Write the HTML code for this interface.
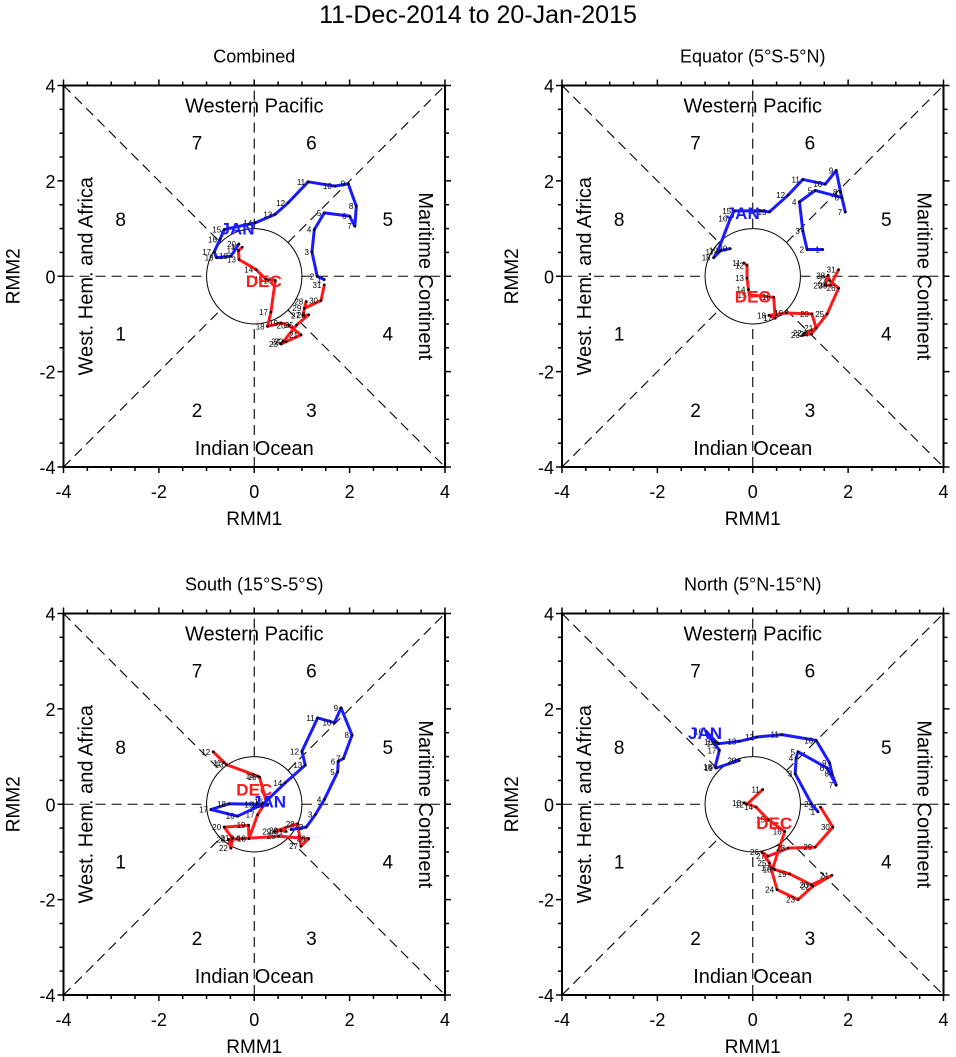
<!DOCTYPE html>
<html><head><meta charset="utf-8"><style>
body{margin:0;background:#fff;}
svg{display:block;font-family:"Liberation Sans",sans-serif;}
</style></head><body>
<svg id="chart" width="956" height="1057" viewBox="0 0 956 1057" xmlns="http://www.w3.org/2000/svg">
<text x="478" y="23" font-size="25" text-anchor="middle">11-Dec-2014 to 20-Jan-2015</text>
</svg>
<script>
// Panel titles
const panelTitles = ["Combined", "Equator (5°S-5°N)", "South (15°S-5°S)", "North (5°N-15°N)"];
// December (red) series, days 11..31
const decDays = [11,12,13,14,15,16,17,18,19,20,21,22,23,24,25,26,27,28,29,30,31];
const p1DecX = [-0.25,-0.33,-0.32,0.04,0.25,0.44,0.35,0.28,0.56,0.72,0.98,0.67,0.56,0.61,0.89,1.14,1.02,1.09,1.05,1.40,1.47];
const p1DecY = [0.61,0.54,0.35,0.14,-0.07,-0.09,-0.75,-1.05,-0.98,-1.03,-1.23,-1.37,-1.42,-1.37,-1.02,-0.81,-0.82,-0.53,-0.67,-0.51,-0.18];
const p2DecX = [-0.19,-0.12,-0.12,-0.09,-0.07,0.44,0.47,0.34,0.70,1.24,1.33,1.09,1.05,1.23,1.56,1.80,1.61,1.58,1.52,1.63,1.80];
const p2DecY = [0.28,0.23,-0.04,-0.28,-0.39,-0.44,-0.88,-0.82,-0.77,-0.79,-1.09,-1.19,-1.23,-1.21,-0.79,-0.25,-0.09,0.02,-0.19,-0.19,0.14];
const p3DecX = [-0.63,-0.86,-0.58,0.07,0.11,0.25,0.07,-0.11,-0.12,-0.63,-0.46,-0.49,-0.54,-0.25,0.51,1.14,0.98,0.91,0.42,0.56,0.67];
const p3DecY = [0.87,1.10,0.83,0.59,0.57,0.06,-0.22,-0.72,-0.44,-0.48,-0.71,-0.92,-0.74,-0.72,-0.67,-0.72,-0.88,-0.41,-0.57,-0.55,-0.57];
const p4DecX = [0.21,-0.12,-0.18,0.07,0.32,0.67,0.42,0.46,0.77,1.23,1.66,1.26,0.95,0.51,0.35,0.19,0.32,0.74,1.31,1.68,1.42];
const p4DecY = [0.31,0.00,0.03,-0.06,-0.32,-0.57,-1.34,-1.37,-1.46,-1.69,-1.49,-1.72,-2.00,-1.79,-1.23,-1.00,-1.09,-0.92,-0.90,-0.48,-0.06];
// January (blue) series, days 1..20
const janDays = [1,2,3,4,5,6,7,8,9,10,11,12,13,14,15,16,17,18,19,20];
const p1JanX = [1.47,1.32,1.21,1.26,1.47,2.00,2.11,2.14,1.97,1.69,1.13,0.71,0.44,0.02,-0.63,-0.72,-0.84,-0.79,-0.49,-0.32];
const p1JanY = [-0.07,0.00,0.51,0.98,1.33,1.26,1.05,1.47,1.94,1.89,1.98,1.54,1.30,1.12,0.98,0.77,0.51,0.39,0.42,0.68];
const p2JanX = [1.47,1.14,1.05,0.98,1.31,1.87,1.94,1.84,1.75,1.52,1.05,0.74,0.35,0.18,-0.39,-0.47,-0.74,-0.82,-0.67,-0.47];
const p2JanY = [0.56,0.56,0.95,1.56,1.80,1.65,1.35,1.77,2.22,1.93,2.03,1.70,1.35,1.37,1.37,1.21,0.51,0.39,0.54,0.58];
const p3JanX = [0.77,1.09,1.28,1.47,1.75,1.76,1.87,2.05,1.82,1.68,1.33,1.00,1.07,0.65,0.18,-0.35,-0.91,-0.53,0.04,0.28];
const p3JanY = [-0.53,-0.48,-0.22,0.10,0.68,0.90,0.96,1.45,2.02,1.71,1.81,1.11,0.82,0.45,0.00,-0.25,-0.11,0.01,0.00,-0.02];
const p4JanX = [1.37,1.23,0.89,0.91,0.95,1.56,1.75,1.66,1.61,1.33,0.61,0.09,-0.28,-0.72,-0.77,-0.98,-0.70,-0.79,-0.77,-0.28];
const p4JanY = [-0.16,0.01,0.64,0.97,1.10,0.76,0.40,0.64,0.87,1.34,1.46,1.41,1.32,1.27,1.31,1.53,1.13,0.78,0.76,0.92];
// Month label anchors (data units)
const decLabelX = [0.2,0.0,0.0,0.45];
const decLabelY = [-0.1,-0.42,0.31,-0.39];
const janLabelX = [-0.35,-0.21,0.31,-1.0];
const janLabelY = [1.0,1.33,0.06,1.49];
const tickVals = [-4,-2,0,2,4];

const decX=[p1DecX,p2DecX,p3DecX,p4DecX], decY=[p1DecY,p2DecY,p3DecY,p4DecY];
const janX=[p1JanX,p2JanX,p3JanX,p4JanX], janY=[p1JanY,p2JanY,p3JanY,p4JanY];
const origins=[[63.5,85.5],[562,85.5],[63.5,613.5],[562,613.5]];
const S=381.5/8;
const NS="http://www.w3.org/2000/svg";
const svg=document.getElementById('chart');
function mk(tag,attrs,parent){const e=document.createElementNS(NS,tag);for(const k in attrs)e.setAttribute(k,attrs[k]);(parent||svg).appendChild(e);return e;}

for(let p=0;p<4;p++){
  const [L,T]=origins[p];
  const sx=v=>L+(v+4)*S, sy=v=>T+(4-v)*S;
  const g=mk('g',{});
  
  
  const t=mk('text',{x:sx(0),y:T-23,'font-size':18,'text-anchor':'middle'},g);t.textContent=panelTitles[p];
  
  
  const d={stroke:'#000','stroke-width':1.1,'stroke-dasharray':'10,6',fill:'none'};
  const r=1/Math.SQRT2;
  [[-4,-4,-r,-r],[r,r,4,4],[-4,4,-r,r],[r,-r,4,-4],[-4,0,-1,0],[1,0,4,0],[0,-4,0,-1],[0,1,0,4]].forEach(s=>{
    const ln=mk('line',Object.assign({x1:sx(s[0]),y1:sy(s[1]),x2:sx(s[2]),y2:sy(s[3])},d),g);
    
    
  });
  const c=mk('circle',{cx:sx(0),cy:sy(0),r:S,fill:'none',stroke:'#000','stroke-width':1},g);
  
  
  const b=mk('rect',{x:L,y:T,width:8*S,height:8*S,fill:'none',stroke:'#000','stroke-width':2},g);
  
  
  for(let v=-4;v<=4;v+=0.5){
    const len=(v%2===0)?6:4;
    mk('line',{x1:sx(v),y1:T+8*S,x2:sx(v),y2:T+8*S+len,stroke:'#000','stroke-width':1.5},g);
    mk('line',{x1:sx(v),y1:T,x2:sx(v),y2:T-len,stroke:'#000','stroke-width':1.5},g);
    mk('line',{x1:L,y1:sy(v),x2:L-len,y2:sy(v),stroke:'#000','stroke-width':1.5},g);
    mk('line',{x1:L+8*S,y1:sy(v),x2:L+8*S+len,y2:sy(v),stroke:'#000','stroke-width':1.5},g);
  }
  tickVals.forEach(v=>{
    const a=mk('text',{x:sx(v),y:T+8*S+31,'font-size':18,'text-anchor':'middle'},g);a.textContent=v;
    
    
    const bb=mk('text',{x:L-8,y:sy(v)+7,'font-size':18,'text-anchor':'end'},g);bb.textContent=v;
    
    
  });
  const xt=mk('text',{x:sx(0),y:T+8*S+58,'font-size':19,'text-anchor':'middle'},g);xt.textContent='RMM1';
  
  
  const yt=mk('text',{x:0,y:0,'font-size':19,'text-anchor':'middle',transform:`translate(${L-44},${sy(0)}) rotate(-90)`},g);yt.textContent='RMM2';
  
  
  const reg=[['Western Pacific',sx(0),sy(3.5)+3,0],['Indian Ocean',sx(0),sy(-3.6)+7,0]];
  reg.forEach(q=>{const e=mk('text',{x:q[1],y:q[2],'font-size':20,'text-anchor':'middle'},g);e.textContent=q[0];
    
    });
  const w=mk('text',{x:0,y:0,'font-size':20,'text-anchor':'middle',transform:`translate(${sx(-3.5)+5},${sy(0)}) rotate(-90)`},g);w.textContent='West. Hem. and Africa';
  
  
  const m=mk('text',{x:0,y:0,'font-size':20,'text-anchor':'middle',transform:`translate(${sx(3.5)-2},${sy(0)}) rotate(90)`},g);m.textContent='Maritime Continent';
  
  
  const ph=[[1,-2.8,-1.2],[2,-1.2,-2.8],[3,1.2,-2.8],[4,2.8,-1.2],[5,2.8,1.2],[6,1.2,2.8],[7,-1.2,2.8],[8,-2.8,1.2]];
  ph.forEach(q=>{const e=mk('text',{x:sx(q[1]),y:sy(q[2])+7,'font-size':19,'text-anchor':'middle'},g);e.textContent=q[0];
    
    });
  function series(X,Y,days,color,name){
    const pts=X.map((x,i)=>sx(x)+','+sy(Y[i])).join(' ');
    const pl=mk('polyline',{points:pts,fill:'none',stroke:color,'stroke-width':3,'stroke-linejoin':'round'},g);
    
    
    X.forEach((x,i)=>{
      mk('circle',{cx:sx(x),cy:sy(Y[i]),r:1.3,fill:'#000'},g);
      const tl=mk('text',{x:sx(x)-3,y:sy(Y[i])+3,'font-size':8,'text-anchor':'end'},g);tl.textContent=days[i];
      
      
    });
  }
  series(decX[p],decY[p],decDays,'#ff1a1a','december-track');
  series(janX[p],janY[p],janDays,'#1a1aff','january-track');
  const dl=mk('text',{x:sx(decLabelX[p]),y:sy(decLabelY[p])+6,'font-size':17,'font-weight':'bold',fill:'#ff1a1a','text-anchor':'middle'},g);dl.textContent='DEC';
  
  
  const jl=mk('text',{x:sx(janLabelX[p]),y:sy(janLabelY[p])+6,'font-size':17,'font-weight':'bold',fill:'#1a1aff','text-anchor':'middle'},g);jl.textContent='JAN';
  
  
}
</script>
</body></html>
